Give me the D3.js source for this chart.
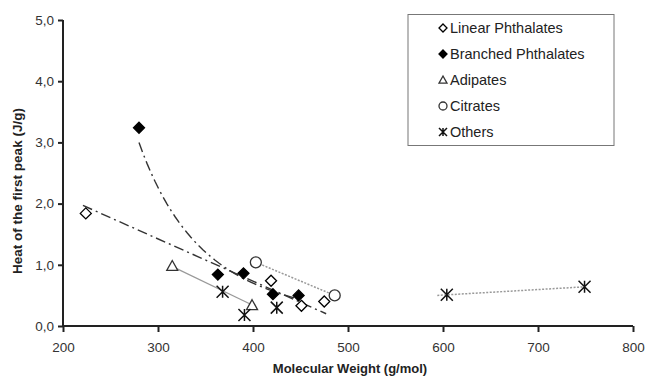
<!DOCTYPE html>
<html>
<head>
<meta charset="utf-8">
<script src="https://cdn.jsdelivr.net/npm/d3@7"></script>
<style>
  body { margin: 0; background: #fff; }
  text { font-family: "Liberation Sans", Arial, sans-serif; }
</style>
</head>
<body>
<div id="chart"></div>
<script>
// values
const linearMW = [224, 419, 451, 475];
const linearHeat = [1.84, 0.74, 0.33, 0.40];
const branchedMW = [280, 363, 390, 421, 448];
const branchedHeat = [3.24, 0.84, 0.86, 0.52, 0.50];
const adipatesMW = [315, 399];
const adipatesHeat = [0.98, 0.34];
const citratesMW = [403, 486];
const citratesHeat = [1.04, 0.50];
const othersMW = [368, 391, 425, 604, 749];
const othersHeat = [0.56, 0.18, 0.30, 0.51, 0.64];

// trend line ends
const linearTrendMW = [221, 477];
const linearTrendHeat = [1.97, 0.20];
const adipatesTrendMW = [318, 397];
const adipatesTrendHeat = [0.95, 0.36];
const citratesTrendMW = [403, 486];
const citratesTrendHeat = [1.04, 0.50];
const othersTrendMW = [594, 749];
const othersTrendHeat = [0.50, 0.64];

const xTicks = [200, 300, 400, 500, 600, 700, 800];
const yTicks = [0, 1, 2, 3, 4, 5];

const width = 648;
const height = 383;
const margin = { top: 20, right: 15, bottom: 57, left: 63 };

const series = [
    { name: 'Linear Phthalates', mw: linearMW, heat: linearHeat, symbol: 'diamond', fill: '#fff',
      trend: [linearTrendMW, linearTrendHeat], dash: '10,4,2,4', stroke: '#333', sw: 1.4 },
    { name: 'Branched Phthalates', mw: branchedMW, heat: branchedHeat, symbol: 'diamond', fill: '#000',
      trend: 'power', dash: '10,4,2,4', stroke: '#333', sw: 1.4 },
    { name: 'Adipates', mw: adipatesMW, heat: adipatesHeat, symbol: 'triangle', fill: '#fff',
      trend: [adipatesTrendMW, adipatesTrendHeat], dash: null, stroke: '#999', sw: 1.2 },
    { name: 'Citrates', mw: citratesMW, heat: citratesHeat, symbol: 'circle', fill: '#fff',
      trend: [citratesTrendMW, citratesTrendHeat], dash: '2,1.5', stroke: '#999', sw: 1.5 },
    { name: 'Others', mw: othersMW, heat: othersHeat, symbol: 'star', fill: 'none',
      trend: [othersTrendMW, othersTrendHeat], dash: '2,1.5', stroke: '#999', sw: 1.5 }
];

const svg = d3.select('#chart')
    .append('svg')
    .attr('width', width)
    .attr('height', height);

const x = d3.scaleLinear().domain([200, 800]).range([margin.left, width - margin.right]);
const y = d3.scaleLinear().domain([0, 5]).range([height - margin.bottom, margin.top]);

// Excel-style power trendline y = a * x^b
function powerFit(xs, ys) {
    const tx = xs.map(Math.log), ty = ys.map(Math.log);
    const mx = d3.mean(tx), my = d3.mean(ty);
    const b = d3.sum(tx, (v, i) => (v - mx) * (ty[i] - my)) / d3.sum(tx, v => (v - mx) * (v - mx));
    const a = my - b * mx;
    const lo = d3.min(xs), hi = d3.max(xs);
    return d3.range(0, 41).map(i => {
        const v = lo + (hi - lo) * i / 40;
        return [v, Math.exp(a + b * Math.log(v))];
    });
}

const line = d3.line().x(d => x(d[0])).y(d => y(d[1]));

series.forEach(s => {
    const pts = s.trend === 'power'
        ? powerFit(s.mw, s.heat)
        : s.trend[0].map((v, i) => [v, s.trend[1][i]]);
    svg.append('path')
        .attr('d', line(pts))
        .attr('fill', 'none')
        .attr('stroke', s.stroke)
        .attr('stroke-width', s.sw)
        .attr('stroke-dasharray', s.dash);
});

// marker shapes
function marker(g, symbol, fill, size) {
    const r = size / 2;
    if (symbol === 'diamond') {
        g.append('path').attr('d', `M0,${-r}L${r},0L0,${r}L${-r},0Z`)
            .attr('fill', fill).attr('stroke', '#000').attr('stroke-width', 1.3);
    } else if (symbol === 'triangle') {
        g.append('path').attr('d', `M0,${-r}L${r},${r * 0.8}L${-r},${r * 0.8}Z`)
            .attr('fill', fill).attr('stroke', '#333').attr('stroke-width', 1.3);
    } else if (symbol === 'circle') {
        g.append('circle').attr('r', r)
            .attr('fill', fill).attr('stroke', '#333').attr('stroke-width', 1.3);
    } else {
        g.append('path').attr('d', `M${-r},${-r}L${r},${r}M${-r},${r}L${r},${-r}M0,${-r}L0,${r}`)
            .attr('stroke', '#111').attr('stroke-width', 1.5);
    }
}

series.forEach(s => {
    s.mw.forEach((v, i) => {
        const g = svg.append('g').attr('transform', `translate(${x(v)},${y(s.heat[i])})`);
        marker(g, s.symbol, s.fill, s.symbol === 'star' ? 12 : 11);
    });
});

// axes
const xAxis = svg.append('g')
    .attr('transform', `translate(0,${height - margin.bottom})`)
    .call(d3.axisBottom(x).tickValues(xTicks).tickSize(6).tickPadding(10).tickFormat(d3.format('d')));
const yAxis = svg.append('g')
    .attr('transform', `translate(${margin.left},0)`)
    .call(d3.axisLeft(y).tickValues(yTicks).tickSize(5).tickPadding(4).tickFormat(d => d.toFixed(1).replace('.', ',')));

[xAxis, yAxis].forEach(a => {
    a.select('.domain').attr('stroke', '#222').attr('stroke-width', 2);
    a.selectAll('.tick line').attr('stroke', '#222').attr('stroke-width', 2);
    a.selectAll('.tick text').attr('fill', '#333').style('font-size', '13.5px').style('font-family', '"Liberation Sans", Arial, sans-serif');
});
xAxis.select('.domain').attr('d', `M${margin.left},0H${width - margin.right}`);
yAxis.select('.domain').attr('d', `M0,${margin.top}V${height - margin.bottom}`);

svg.append('text')
    .attr('x', 350)
    .attr('y', 373)
    .attr('text-anchor', 'middle')
    .attr('font-weight', 'bold')
    .attr('font-size', 13)
    .attr('fill', '#222')
    .text('Molecular Weight (g/mol)');

svg.append('text')
    .attr('transform', `translate(22,${(margin.top + height - margin.bottom) / 2 + 18}) rotate(-90)`)
    .attr('text-anchor', 'middle')
    .attr('font-weight', 'bold')
    .attr('font-size', 13.5)
    .attr('fill', '#222')
    .text('Heat of the first peak (J/g)');

// legend
const legend = svg.append('g');
legend.append('rect')
    .attr('x', 408).attr('y', 14.5)
    .attr('width', 206).attr('height', 131)
    .attr('fill', '#fff').attr('stroke', '#777').attr('stroke-width', 1);

series.forEach((s, i) => {
    const row = legend.append('g').attr('transform', `translate(443,${27 + i * 26})`);
    marker(row.append('g').attr('transform', 'translate(0,1)'), s.symbol, s.fill, 8);
    row.append('text')
        .attr('x', 7)
        .attr('y', 5.5)
        .attr('font-size', 14.5)
        .attr('fill', '#222')
        .text(s.name);
});
</script>
</body>
</html>
